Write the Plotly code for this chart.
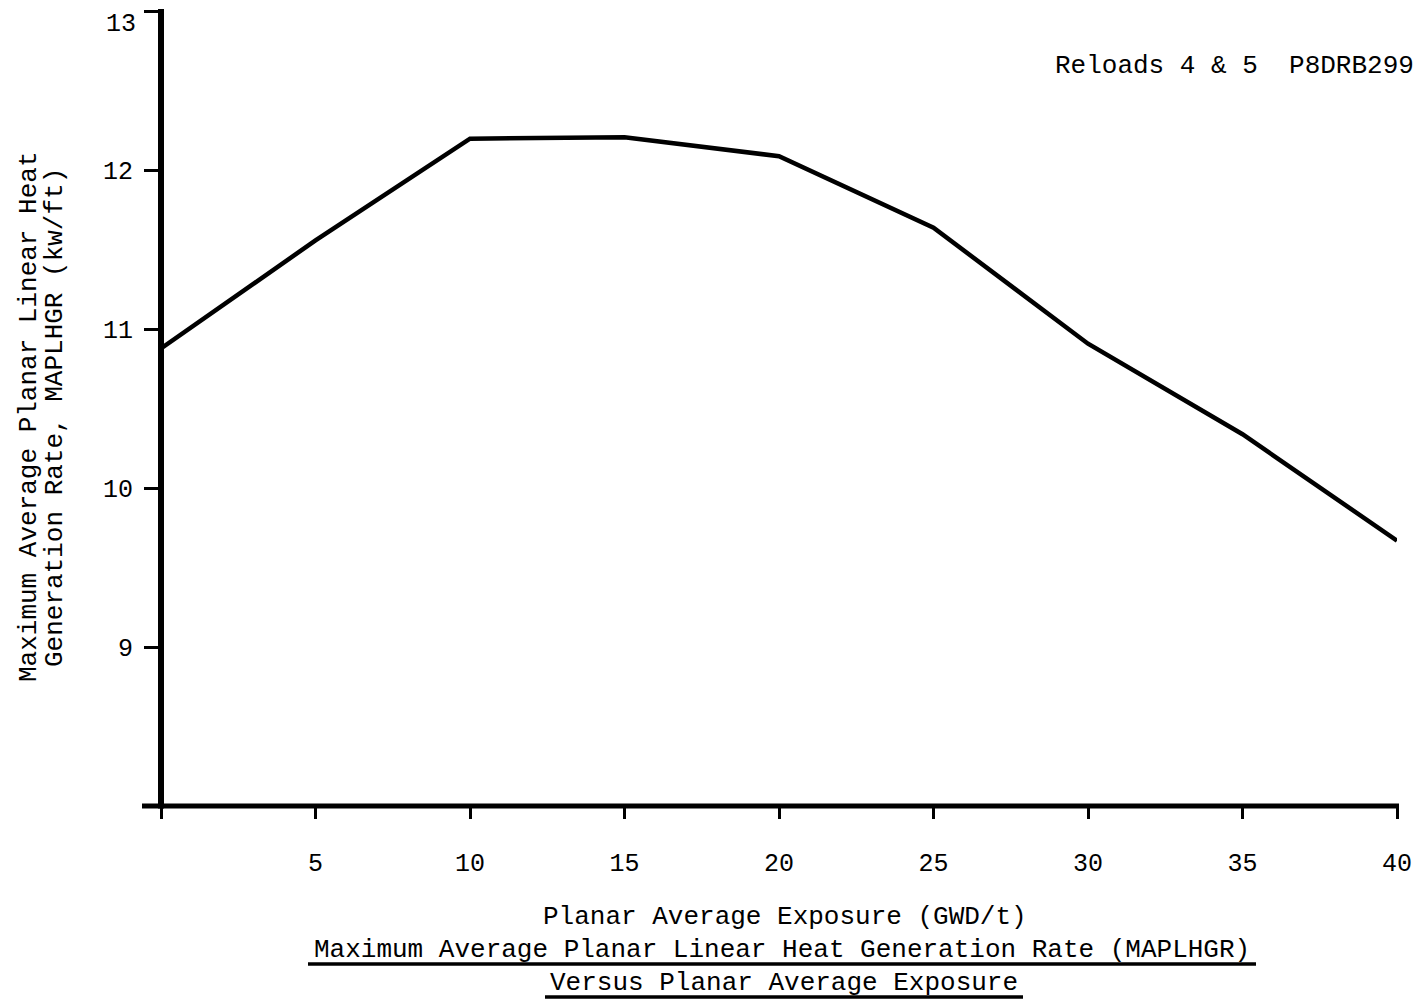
import plotly.graph_objects as go

# Data
exposure = [0, 5, 10, 15, 20, 25, 30, 35, 40]
maplhgr = [10.88, 11.56, 12.20, 12.21, 12.09, 11.64, 10.91, 10.34, 9.67]

x_tickvals = [0, 5, 10, 15, 20, 25, 30, 35, 40]
x_ticktext = ["", "5", "10", "15", "20", "25", "30", "35", "40"]
y_tickvals = [9, 10, 11, 12, 13]
y_ticktext = ["9", "10", "11", "12", "13"]

x_title = "Planar Average Exposure (GWD/t)"
fig_title_1 = "Maximum Average Planar Linear Heat Generation Rate (MAPLHGR)"
fig_title_2 = "Versus Planar Average Exposure"
y_title_1 = "Maximum Average Planar Linear Heat"
y_title_2 = "Generation Rate, MAPLHGR (kw/ft)"
corner_note = "Reloads 4 & 5\u00a0\u00a0P8DRB299"

OFF = 8  # page body margin in the browser
W, H = 1422 - OFF, 1001 - OFF
# plot area in screen pixels
SX0, SX1, SY0, SY1 = 161, 1397, 11, 806
L, R = SX0 - OFF, W - (SX1 - OFF)
T, B = SY0 - OFF, H - (SY1 - OFF)
PW, PH = W - L - R, H - T - B


def px(xs):
    return (xs - SX0) / PW


def py(ys):
    return (SY1 - ys) / PH


FONT = "Liberation Mono, Courier New, monospace"

fig = go.Figure()
fig.add_trace(go.Scatter(
    x=exposure, y=maplhgr, mode="lines",
    line=dict(color="black", width=4.5),
    showlegend=False, hoverinfo="skip", cliponaxis=False,
))

fig.update_layout(
    width=W, height=H,
    margin=dict(l=L, r=R, t=T, b=B, autoexpand=False),
    paper_bgcolor="white", plot_bgcolor="white",
    font=dict(family=FONT, size=25, color="black"),
    xaxis=dict(
        range=[0, 40], tickvals=x_tickvals, ticktext=x_ticktext,
        ticks="outside", ticklen=12, tickwidth=3, tickcolor="black",
        showgrid=False, zeroline=False, showline=False,
        ticklabelstandoff=22,
        tickfont=dict(family=FONT, size=25, color="black"),
    ),
    yaxis=dict(
        range=[8, 13.004], tickvals=y_tickvals, ticktext=y_ticktext,
        ticks="outside", ticklen=16, tickwidth=3, tickcolor="black",
        showgrid=False, zeroline=False, showline=False,
        ticklabelstandoff=6,
        tickfont=dict(family=FONT, size=25, color="black"),
    ),
)

shapes = [
    # y axis line
    dict(type="line", xref="paper", yref="paper", x0=0, x1=0, y0=-0.003, y1=py(9),
         line=dict(color="black", width=6)),
    # x axis line
    dict(type="line", xref="paper", yref="paper", x0=px(142), x1=px(1399), y0=0, y1=0,
         line=dict(color="black", width=5)),
    # underlines
    dict(type="line", xref="paper", yref="paper", x0=px(308), x1=px(1256), y0=py(964), y1=py(964),
         line=dict(color="black", width=3.5)),
    dict(type="line", xref="paper", yref="paper", x0=px(545), x1=px(1023), y0=py(997), y1=py(997),
         line=dict(color="black", width=3.5)),
]
fig.update_layout(shapes=shapes)

ann = [
    dict(text=corner_note, x=px(1053), y=py(66), xanchor="left", yanchor="middle"),
    dict(text=x_title, x=px(785), y=py(917), xanchor="center", yanchor="middle"),
    dict(text=fig_title_1, x=px(782), y=py(950), xanchor="center", yanchor="middle"),
    dict(text=fig_title_2, x=px(784), y=py(983), xanchor="center", yanchor="middle"),
    dict(text=y_title_1, x=px(29), y=py(417), xanchor="center", yanchor="middle", textangle=-90),
    dict(text=y_title_2, x=px(55), y=py(418), xanchor="center", yanchor="middle", textangle=-90),
]
for a in ann:
    fig.add_annotation(xref="paper", yref="paper", showarrow=False,
                       font=dict(family=FONT, size=26, color="black"), **a)

# top tick label (drawn as annotation because the axis hides it at the figure edge)
fig.add_annotation(xref="paper", yref="y", x=px(137), y=y_tickvals[-1], yshift=-13,
                   text=y_ticktext[-1], showarrow=False, xanchor="right", yanchor="middle",
                   borderpad=0, font=dict(family=FONT, size=25, color="black"))

fig.write_html("out.html")
